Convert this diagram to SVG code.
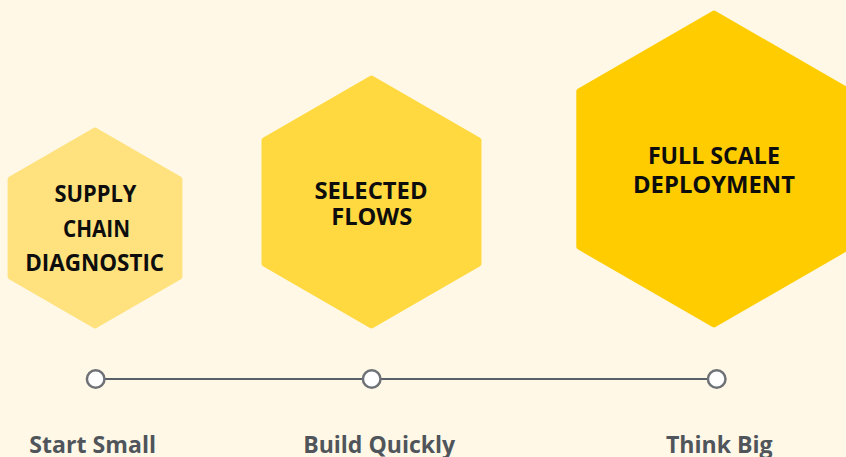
<svg xmlns="http://www.w3.org/2000/svg" width="846" height="457" viewBox="0 0 846 457">
<style>
.hex{stroke-width:6;stroke-linejoin:round}
.ht{font-family:"Open Sans","Liberation Sans",sans-serif;font-weight:700;font-size:23px;fill:#0d0d0d;text-anchor:middle}
.lbl{font-family:"Open Sans","Liberation Sans",sans-serif;font-weight:700;font-size:22.5px;fill:#4f555b;text-anchor:middle}
.dot{fill:#ffffff;stroke:#6e7277;stroke-width:2.5}
</style>
<rect width="846" height="457" fill="#FFF8E6"/>
<g id="hex-supply-chain">
<polygon class="hex" fill="#FFE27E" stroke="#FFE27E" points="95,130.5 179.4,179.25 179.4,276.75 95,325.5 10.6,276.75 10.6,179.25"/>
<text class="ht" x="95.5" y="201.7" textLength="82" lengthAdjust="spacingAndGlyphs">SUPPLY</text>
<text class="ht" x="96.5" y="236.7" textLength="67" lengthAdjust="spacingAndGlyphs">CHAIN</text>
<text class="ht" x="94.7" y="270.7" textLength="139" lengthAdjust="spacingAndGlyphs">DIAGNOSTIC</text>
</g>
<g id="hex-selected-flows">
<polygon class="hex" fill="#FFD93F" stroke="#FFD93F" points="371.5,78.5 478.5,140.25 478.5,263.75 371.5,325.5 264.5,263.75 264.5,140.25"/>
<text class="ht" x="371" y="199.3" textLength="113" lengthAdjust="spacingAndGlyphs">SELECTED</text>
<text class="ht" x="371.7" y="225.3" textLength="81" lengthAdjust="spacingAndGlyphs">FLOWS</text>
</g>
<g id="hex-full-scale">
<polygon class="hex" fill="#FFCC00" stroke="#FFCC00" points="714,13.5 848.7,91.25 848.7,246.75 714,324.5 579.3,246.75 579.3,91.25"/>
<text class="ht" x="713.9" y="164.3" textLength="132" lengthAdjust="spacingAndGlyphs">FULL SCALE</text>
<text class="ht" x="714" y="193.3" textLength="162" lengthAdjust="spacingAndGlyphs">DEPLOYMENT</text>
</g>
<g id="connectors">
<line x1="95.7" y1="379" x2="716.7" y2="379" stroke="#5a6068" stroke-width="2"/>
</g>
<g id="step-start-small">
<circle class="dot" cx="95.7" cy="379" r="8.8"/>
<text class="lbl" x="92.7" y="453" textLength="126.7" lengthAdjust="spacingAndGlyphs">Start Small</text>
</g>
<g id="step-build-quickly">
<circle class="dot" cx="371.7" cy="379" r="8.8"/>
<text class="lbl" x="379.2" y="453" textLength="152" lengthAdjust="spacingAndGlyphs">Build Quickly</text>
</g>
<g id="step-think-big">
<circle class="dot" cx="716.7" cy="379" r="8.8"/>
<text class="lbl" x="719.3" y="453" textLength="106.7" lengthAdjust="spacingAndGlyphs">Think Big</text>
</g>
</svg>
